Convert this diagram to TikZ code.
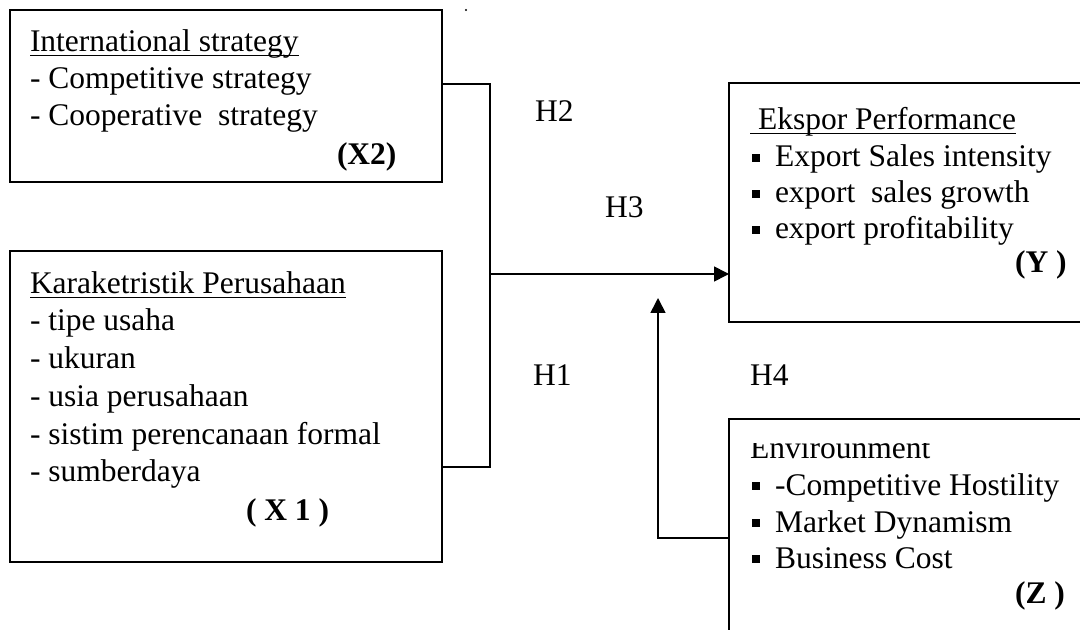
\documentclass[tikz,border=0pt]{standalone}
\usepackage{fontspec}
\setmainfont{Liberation Serif}
\usetikzlibrary{arrows.meta}
\newcommand\sqb{\makebox[11.5pt][l]{\raisebox{0.16em}{\rule{3.8pt}{3.8pt}}}}
\begin{document}
\begin{tikzpicture}[x=0.5pt,y=-0.5pt,
  box/.style={draw,line width=1pt,inner sep=0pt,outer sep=0pt},
  txt/.style={anchor=base west,inner sep=0pt,outer sep=0pt,font=\fontsize{15.75}{18.25}\selectfont},
  conn/.style={line width=0.8pt},
  tip/.style={-{Triangle[length=7.5pt,width=7.5pt]}},
  ul/.style={line width=0.65pt}]
\useasboundingbox (0,0) rectangle (1080,630);
\clip (0,0) rectangle (1080,630);
% boxes
\node[box,minimum width=216pt,minimum height=86pt] (x2) at (226,96) {};
\node[box,minimum width=216pt,minimum height=155.5pt] (x1) at (226,406.5) {};
\node[box,minimum width=190pt,minimum height=119.5pt] (y) at (919,202.5) {};
\node[box,minimum width=190pt,minimum height=120pt] (z) at (919,539) {};
% stray dot
\fill (466,10) circle (0.6pt);
% X2 text
\node[txt] (x2t) at (30,52) {International strategy};
\draw[ul] ([yshift=-1.7pt]x2t.base west) -- ([yshift=-1.7pt]x2t.base east);
\node[txt] (x2a) at (30,89) {- Competitive strategy};
\node[txt] (x2b) at (30,126) {- Cooperative~ strategy};
\node[txt,font=\fontsize{15.75}{18.25}\selectfont\bfseries] (x2l) at (337,165) {(X2)};
% X1 text
\node[txt] (x1t) at (30,294) {Karaketristik Perusahaan};
\draw[ul] ([yshift=-1.7pt]x1t.base west) -- ([yshift=-1.7pt]x1t.base east);
\node[txt] (x1a) at (30,330) {- tipe usaha};
\node[txt] (x1b) at (30,368) {- ukuran};
\node[txt] (x1c) at (30,406) {- usia perusahaan};
\node[txt] (x1d) at (30,444) {- sistim perencanaan formal};
\node[txt] (x1e) at (30,481) {- sumberdaya};
\node[txt,font=\fontsize{15.75}{18.25}\selectfont\bfseries] (x1l) at (246,520) {( X 1 )};
% Y text
\node[txt] (yt) at (758,130) {Ekspor Performance};
\draw[ul] ([yshift=-1.7pt,xshift=-4pt]yt.base west) -- ([yshift=-1.7pt]yt.base east);
\node[txt] (ya) at (752,167) {\sqb Export Sales intensity};
\node[txt] (yb) at (752,203) {\sqb export~ sales growth};
\node[txt] (yc) at (752,239) {\sqb export profitability};
\node[txt,font=\fontsize{15.75}{18.25}\selectfont\bfseries] (yl) at (1015,273) {(Y )};
% Z text
\begin{scope}
\clip (720,443) rectangle (1080,480);
\node[txt] (zt) at (750,458) {Envirounment};
\end{scope}
\node[txt] (za) at (752,495) {\sqb -Competitive Hostility};
\node[txt] (zb) at (752,532) {\sqb Market Dynamism};
\node[txt] (zc) at (752,568) {\sqb Business Cost};
\node[txt,font=\fontsize{15.75}{18.25}\selectfont\bfseries] (zl) at (1015,603) {(Z )};
% hypothesis labels
\node[txt] (h2) at (535,122) {H2};
\node[txt] (h3) at (605,218) {H3};
\node[txt] (h1) at (533,386) {H1};
\node[txt] (h4) at (750,386) {H4};
% connectors
\coordinate (j) at (490,274);
\coordinate (up) at (658,298);
\draw[conn] (x2.east |- 0,84) -| (j) |- (x1.east |- 0,467);
\draw[conn,tip] (j) -- (y.west |- j);
\draw[conn,tip] (z.west |- 0,538) -| (up);
\end{tikzpicture}
\end{document}
